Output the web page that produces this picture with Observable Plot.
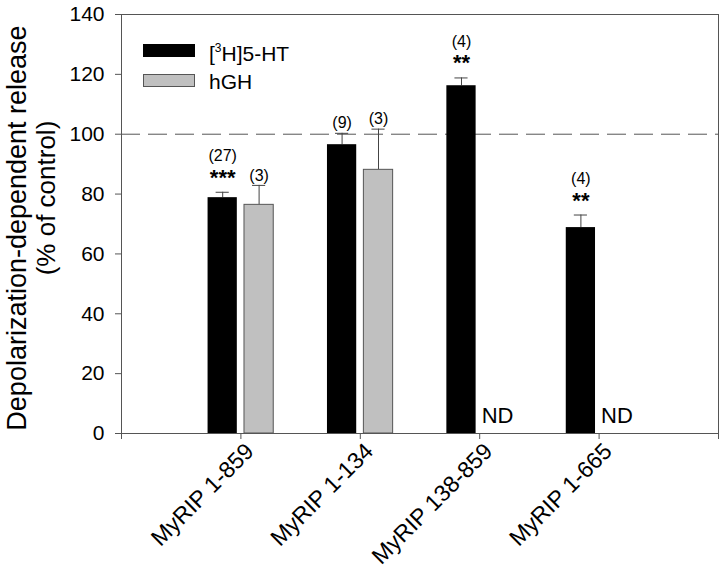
<!DOCTYPE html>
<html>
<head>
<meta charset="utf-8">
<script src="https://cdn.jsdelivr.net/npm/d3@7"></script>
<script src="https://cdn.jsdelivr.net/npm/@observablehq/plot@0.6"></script>
<style>
  body { margin: 0; background: #fff; font-family: "Liberation Sans", Arial, sans-serif; }
  #wrap { position: relative; width: 720px; height: 573px; }
  .leg { position: absolute; font-size: 21px; color: #000; line-height: 1; }
  .sw { position: absolute; width: 52px; box-sizing: border-box; }
</style>
</head>
<body>
<div id="wrap">
  <div id="chart"></div>
  <div class="sw" style="left:143px;top:43.5px;height:13px;background:#000;"></div>
  <div class="sw" style="left:143px;top:74px;height:13px;background:#c0c0c0;border:1px solid #555;"></div>
  <div class="leg" id="leg1" style="left:209px;top:43px;"></div>
  <div class="leg" id="leg2" style="left:209px;top:71px;"></div>
</div>
<script>
const categories = ["MyRIP 1-859", "MyRIP 1-134", "MyRIP 138-859", "MyRIP 1-665"];
const seriesNames = ["[3H]5-HT", "hGH"];
const serotonin = [78.8, 96.5, 116.2, 68.8];
const serotoninErr = [1.8, 3.8, 2.6, 4.2];
const hgh = [76.4, 88.1, null, null];
const hghErr = [6.5, 13.6, null, null];
const serotoninN = ["(27)", "(9)", "(4)", "(4)"];
const hghN = ["(3)", "(3)", "", ""];
const serotoninStars = ["***", "", "**", "**"];
const notDetermined = ["", "", "ND", "ND"];
const yTicks = [0, 20, 40, 60, 80, 100, 120, 140];
const controlLevel = 100;

document.getElementById("leg1").innerHTML = "[<sup style='font-size:12px;vertical-align:0;position:relative;top:-9px'>3</sup>H]5-HT";
document.getElementById("leg2").textContent = seriesNames[1];

// layout constants (in category-slot units)
const BAR_IN = 0.03, BAR_OUT = 0.275, CAP = 0.055;

const rows = [];
categories.forEach((c, i) => {
  const pos = i + 1;
  rows.push({pos, series: "5HT", x1: pos - BAR_OUT, x2: pos - BAR_IN, cx: pos - (BAR_OUT + BAR_IN) / 2,
             v: serotonin[i], hi: serotonin[i] + serotoninErr[i], n: serotoninN[i], stars: serotoninStars[i]});
  if (hgh[i] != null) {
    rows.push({pos, series: "hGH", x1: pos + BAR_IN, x2: pos + BAR_OUT, cx: pos + (BAR_OUT + BAR_IN) / 2,
               v: hgh[i], hi: hgh[i] + hghErr[i], n: hghN[i], stars: ""});
  }
});
const ndRows = categories.map((c, i) => ({pos: i + 1, t: notDetermined[i]})).filter(d => d.t);

const chart = Plot.plot({
  width: 720,
  height: 573,
  marginLeft: 121,
  marginRight: 2,
  marginTop: 14,
  marginBottom: 140,
  style: {fontFamily: "'Liberation Sans', Arial, sans-serif", color: "#000", background: "#fff"},
  x: {domain: [0, 5]},
  y: {domain: [0, 140]},
  marks: [
    Plot.ruleY([controlLevel], {stroke: "#555", strokeDasharray: "19,8", strokeWidth: 1}),
    Plot.ruleX(rows, {x: "cx", y1: "v", y2: "hi", stroke: "#444", strokeWidth: 1}),
    Plot.ruleY(rows, {y: "hi", x1: d => d.cx - CAP, x2: d => d.cx + CAP, stroke: "#444", strokeWidth: 1}),
    Plot.rect(rows.filter(d => d.series === "5HT"), {x1: "x1", x2: "x2", y1: 0, y2: "v", fill: "#000"}),
    Plot.rect(rows.filter(d => d.series === "hGH"), {x1: "x1", x2: "x2", y1: 0, y2: "v", fill: "#c0c0c0", stroke: "#555", strokeWidth: 1}),
    Plot.text(rows.filter(d => !d.stars), {x: "cx", y: "hi", text: "n", dy: -10, fontSize: 16}),
    Plot.text(rows.filter(d => d.stars), {x: "cx", y: "hi", text: "n", dy: -36, fontSize: 16}),
    Plot.text(rows.filter(d => d.stars), {x: "cx", y: "hi", text: "stars", dy: -14.5, fontSize: 22, fontWeight: "bold"}),
    Plot.text(ndRows, {x: "pos", y: 0, text: "t", textAnchor: "start", dx: 2, dy: -17.5, fontSize: 22}),
    Plot.frame({stroke: "#555"}),
    Plot.axisY({ticks: yTicks, tickSize: 6, tickPadding: 11, fontSize: 21, stroke: "#555", fill: "#000", label: null}),
    Plot.axisX({ticks: [0, 1, 2, 3, 4, 5], tickSize: 6, tickFormat: () => "", stroke: "#555", label: null}),
    Plot.axisX({ticks: [1, 2, 3, 4], tickSize: 0, tickFormat: i => categories[i - 1], tickRotate: -45,
                tickPadding: 14, dx: 9, fontSize: 23, fill: "#000", label: null}),
    Plot.text(["Depolarization-dependent release"], {frameAnchor: "left", textAnchor: "middle", rotate: -90, dx: -104.5, dy: 4, fontSize: 27}),
    Plot.text(["(% of control)"], {frameAnchor: "left", textAnchor: "middle", rotate: -90, dx: -75, dy: -26, fontSize: 26})
  ]
});
document.getElementById("chart").appendChild(chart);
</script>
</body>
</html>
